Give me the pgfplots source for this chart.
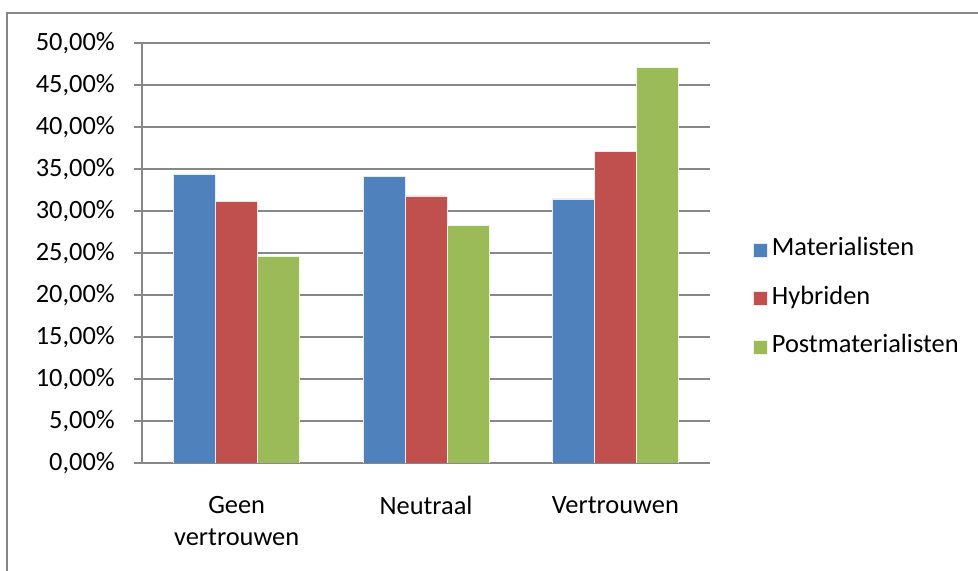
\documentclass[border=0pt]{standalone}
\usepackage{pgfplots}
\pgfplotsset{compat=1.18}
\usepackage{fontspec}
\setmainfont{Carlito}
\definecolor{cblue}{HTML}{4F81BD}
\definecolor{cred}{HTML}{C0504D}
\definecolor{cgreen}{HTML}{9BBB59}
\definecolor{gridgray}{HTML}{878787}
\begin{document}
\fontsize{13.2}{16}\selectfont
\begin{tikzpicture}
\useasboundingbox (0,0) rectangle (489pt,285.5pt);
\draw[gridgray, line width=0.6pt] (3.5pt,-2pt) rectangle (492pt,279pt);
\begin{axis}[
  at={(71pt,54pt)}, anchor=south west,
  scale only axis, width=284pt, height=210pt,
  ybar=0pt, bar width=21pt,
  xmin=-0.5, xmax=2.5, ymin=0, ymax=50,
  xtick={0,1,2},
  xticklabels={{Geen\\vertrouwen},{Neutraal},{Vertrouwen}},
  xticklabel style={align=center, font=\fontsize{13.2}{16}\selectfont, yshift=-8pt},
  xtick style={draw=none},
  minor xtick={-0.5,0.5,1.5,2.5},
  minor x tick style={gridgray, line width=0.9pt},
  minor tick length=4pt,
  ytick={0,5,...,50},
  major tick length=4pt,
  tick align=outside,
  y tick style={gridgray, line width=0.9pt},
  ymajorgrids, grid style={gridgray, line width=0.9pt},
  axis x line*=bottom, axis y line*=left,
  axis line style={gridgray, line width=0.9pt, -},
  yticklabel={\pgfmathprintnumber[fixed, fixed zerofill, precision=2, use comma]{\tick}\%},
  /pgf/number format/assume math mode=true,
  yticklabel style={font=\fontsize{13.2}{16}\selectfont, xshift=-5pt},
  legend style={at={(1.065,0.392)}, anchor=west, draw=none, fill=none,
    font=\fontsize{13.2}{16}\selectfont, row sep=12.25pt,
    nodes={inner sep=0pt, text height=9pt, text depth=3pt},
    /tikz/every odd column/.append style={column sep=2pt}},
  legend cell align=left,
  legend image code/.code={\fill[#1] (0pt,-3.5pt) rectangle (7pt,3.5pt);},
]
\addplot[fill=cblue, draw=white!85!cblue, line width=0.3pt] coordinates {(0,34.4) (1,34.1) (2,31.45)};
\addplot[fill=cred, draw=white!85!cred, line width=0.3pt] coordinates {(0,31.1) (1,31.8) (2,37.1)};
\addplot[fill=cgreen, draw=white!85!cgreen, line width=0.3pt] coordinates {(0,24.55) (1,28.25) (2,47.1)};
\legend{Materialisten,Hybriden,Postmaterialisten}
\end{axis}
\end{tikzpicture}
\end{document}
